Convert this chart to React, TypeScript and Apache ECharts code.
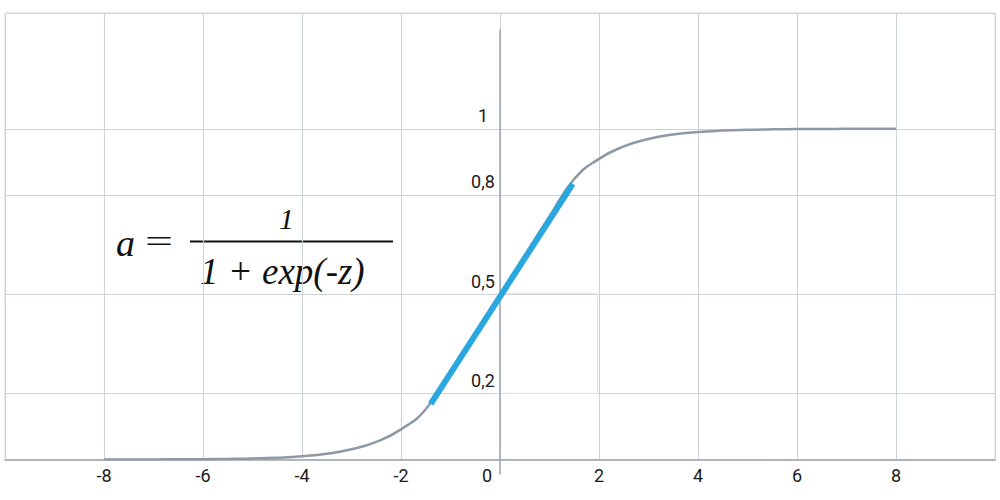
import React, { useEffect, useRef } from "react";
import * as echarts from "echarts";

const xTickLabels = ["-8", "-6", "-4", "-2", "0", "2", "4", "6", "8"];
const yTickValues = [0.2, 0.5, 0.8, 1];
const yTickLabels = ["0,2", "0,5", "0,8", "1"];
const gridValuesY = [0.2, 0.5, 0.8, 1, 1.35];

const curveX = [-8, -7.5, -7, -6.5, -6, -5.5, -5, -4.5, -4, -3.5, -3, -2.5, -2, -1.5, -1, -0.5, 0, 0.5, 1, 1.5, 2, 2.5, 3, 3.5, 4, 4.5, 5, 5.5, 6, 6.5, 7, 7.5, 8];
const curveY = [0.0001, 0.0002, 0.0003, 0.0006, 0.001, 0.0018, 0.0032, 0.0056, 0.0099, 0.0175, 0.0308, 0.0534, 0.0911, 0.152, 0.265, 0.383, 0.5, 0.617, 0.735, 0.848, 0.909, 0.9466, 0.9692, 0.9825, 0.9901, 0.9944, 0.9968, 0.9982, 0.999, 0.9994, 0.9997, 0.9998, 0.9999];

const blueX = [-1.4, 1.47];
const blueY = [0.168, 0.833];

// vertical axis line at z = 0 (top end, bottom end)
const axisLineX = [0, 0];
const axisLineY = [1.3, -0.045];

export default function App() {
  const ref = useRef<HTMLDivElement>(null);
  useEffect(() => {
    if (!ref.current) return;
    const chart = echarts.init(ref.current, null, { renderer: "svg" });
    const gridColor = "#cdd2da";
    const labelFont = { color: "#1a1a1a", fontFamily: "Roboto", fontSize: 18 };
    chart.setOption({
      animation: false,
      backgroundColor: "#ffffff",
      grid: {
        left: 5, right: 5, top: 13, bottom: 40.5,
        containLabel: false, outerBoundsMode: "none",
        show: true, borderColor: "#dcdde0", borderWidth: 1,
      },
      xAxis: {
        type: "value",
        min: -10,
        max: 10,
        interval: 2,
        axisLine: { show: true, onZero: false, lineStyle: { color: "#9aa3ad", width: 1.5 } },
        axisTick: { show: false },
        splitLine: { show: true, lineStyle: { color: gridColor, width: 1 } },
        axisLabel: {
          showMinLabel: false,
          showMaxLabel: false,
          margin: 7,
          ...labelFont,
          formatter: (v: number) => {
            const s = String(v);
            if (!xTickLabels.includes(s)) return "";
            return s === "0" ? "{z|0}" : s;
          },
          rich: { z: { ...labelFont, padding: [0, 26, 0, 0] } },
        },
      },
      yAxis: {
        type: "value",
        min: 0,
        max: 1.35,
        position: "left",
        offset: -495,
        axisLine: { show: false, onZero: false },
        axisTick: { show: false, customValues: gridValuesY },
        splitLine: { show: true, lineStyle: { color: gridColor, width: 1 } },
        axisLabel: {
          customValues: yTickValues,
          margin: 17,
          align: "center",
          verticalAlign: "bottom",
          padding: [0, 0, 4, 0],
          ...labelFont,
          formatter: (v: number) => {
            const i = yTickValues.indexOf(v);
            return i >= 0 ? yTickLabels[i] : "";
          },
        },
      },
      series: [
        {
          type: "line",
          data: axisLineX.map((x, i) => [x, axisLineY[i]]),
          clip: false,
          showSymbol: false,
          silent: true,
          lineStyle: { color: "#9aa4ae", width: 1.5 },
          markArea: {
            silent: true,
            itemStyle: { color: "rgba(255,255,255,0)", borderColor: "#dde2e8", borderWidth: 1 },
            data: [[{ coord: [0, 0.503] }, { coord: [1.97, 0.2] }]],
          },
          z: 2,
        },
        {
          type: "line",
          data: curveX.map((x, i) => [x, curveY[i]]),
          showSymbol: false,
          smooth: 0.5,
          lineStyle: { color: "#8e99a5", width: 2.5 },
          z: 3,
          silent: true,
        },
        {
          type: "line",
          data: blueX.map((x, i) => [x, blueY[i]]),
          showSymbol: false,
          lineStyle: { color: "#2ba7df", width: 6, cap: "butt" },
          z: 4,
          silent: true,
        },
      ],
      graphic: [
        { type: "text", left: 116, top: 224, style: { text: "a", font: "italic 38px 'Liberation Serif'", fill: "#111" } },
        { type: "text", x: 145, y: 225, scaleX: 1.55, style: { text: "=", font: "32px 'Liberation Serif'", fill: "#111" } },
        { type: "text", left: 279, top: 203, style: { text: "1", font: "italic 30px 'Liberation Serif'", fill: "#111" } },
        { type: "line", shape: { x1: 190, y1: 241.5, x2: 393, y2: 241.5 }, style: { stroke: "#111", lineWidth: 2 } },
        { type: "text", left: 200, top: 253, style: { text: "1 + exp(-z)", font: "italic 37px 'Liberation Serif'", fill: "#111" } },
      ],
    });
    return () => chart.dispose();
  }, []);
  return <div ref={ref} style={{ width: 1000, height: 500, position: "absolute", left: 0, top: 0 }} />;
}
